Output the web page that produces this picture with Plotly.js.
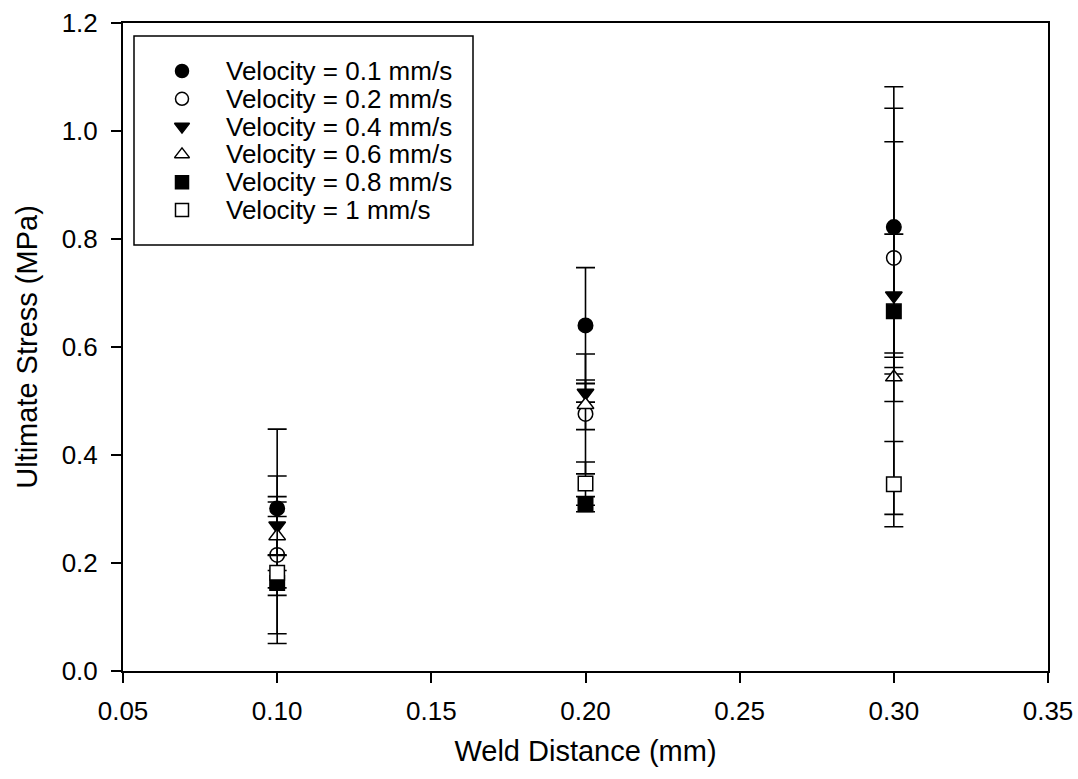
<!DOCTYPE html>
<html>
<head>
<meta charset="utf-8">
<script src="https://cdn.plot.ly/plotly-3.0.1.min.js"></script>
<style>html,body{margin:0;padding:0;background:#fff;}#chart{width:1078px;height:779px;}</style>
</head>
<body>
<div id="chart"></div>
<script>
// ---- data ----
const weldDistance = [0.10, 0.20, 0.30];
const legendLabels = ['Velocity = 0.1 mm/s','Velocity = 0.2 mm/s','Velocity = 0.4 mm/s','Velocity = 0.6 mm/s','Velocity = 0.8 mm/s','Velocity = 1 mm/s'];
const stressV01 = [0.301, 0.640, 0.822];
const errV01    = [0.147, 0.107, 0.260];
const stressV02 = [0.215, 0.476, 0.765];
const errV02    = [0.146, 0.111, 0.215];
const stressV04 = [0.269, 0.515, 0.695];
const errV04    = [0.054, 0.017, 0.114];
const stressV06 = [0.250, 0.493, 0.544];
const errV06    = [0.036, 0.046, 0.045];
const stressV08 = [0.163, 0.309, 0.666];
const errV08    = [0.023, 0.014, 0.376];
const stressV10 = [0.182, 0.347, 0.346];
const errV10    = [0.131, 0.040, 0.079];
const xTickVals = [0.05, 0.10, 0.15, 0.20, 0.25, 0.30, 0.35];
const yTickVals = [0.0, 0.2, 0.4, 0.6, 0.8, 1.0, 1.2];

// ---- styles ----
const FONT = 'Arial, "Liberation Sans", sans-serif';
const series = [
  {y: stressV01, e: errV01, symbol: 'circle',        fill: '#000'},
  {y: stressV02, e: errV02, symbol: 'circle',        fill: '#fff'},
  {y: stressV04, e: errV04, symbol: 'triangle-down', fill: '#000'},
  {y: stressV06, e: errV06, symbol: 'triangle-up',   fill: '#fff'},
  {y: stressV08, e: errV08, symbol: 'square',        fill: '#000'},
  {y: stressV10, e: errV10, symbol: 'square',        fill: '#fff'}
];

const W = 1078, H = 779;
const M = {l: 123, r: 30, t: 23, b: 108};

const traces = series.map((s, i) => ({
  type: 'scatter', mode: 'markers', name: legendLabels[i],
  x: weldDistance, y: s.y,
  error_y: {type: 'data', array: s.e, visible: true, color: '#000', thickness: 1.6, width: 9.5},
  marker: {symbol: s.symbol, size: 14.5, color: s.fill, line: {color: '#000', width: 1.5}},
  showlegend: false, cliponaxis: false
}));

// custom legend drawn on a hidden pixel-scaled overlay axis
const legX0 = 134, legX1 = 473, legY0 = 36, legY1 = 245;
const symX = 182, textX = 224, rowY0 = 71, rowStep = 27.8;
traces.push({
  type: 'scatter', mode: 'markers', xaxis: 'x2', yaxis: 'y2', hoverinfo: 'skip',
  x: series.map(() => symX), y: series.map((s, i) => rowY0 + i * rowStep),
  marker: {symbol: series.map(s => s.symbol), size: 13, color: series.map(s => s.fill), line: {color: '#000', width: 1.5}},
  showlegend: false, cliponaxis: false
});

const annotations = legendLabels.map((t, i) => ({
  xref: 'x2', yref: 'y2', x: textX, y: rowY0 + i * rowStep, text: t,
  showarrow: false, xanchor: 'left', yanchor: 'middle',
  font: {family: FONT, size: 26, color: '#000'}
}));

const layout = {
  width: W, height: H, margin: M,
  paper_bgcolor: '#fff', plot_bgcolor: '#fff',
  showlegend: false,
  font: {family: FONT, color: '#000', size: 26},
  xaxis: {
    range: [0.05, 0.35], tickvals: xTickVals, tickformat: '.2f',
    showline: true, linecolor: '#000', linewidth: 2, mirror: true,
    ticks: 'outside', ticklen: 10, tickwidth: 2, tickcolor: '#000',
    showgrid: false, zeroline: false, automargin: false, ticklabelstandoff: 6,
    tickfont: {family: FONT, size: 26, color: '#000'},
    title: {text: 'Weld Distance (mm)', font: {family: FONT, size: 29, color: '#000'}, standoff: 15}
  },
  yaxis: {
    range: [0, 1.2], tickvals: yTickVals, tickformat: '.1f',
    showline: true, linecolor: '#000', linewidth: 2, mirror: true,
    ticks: 'outside', ticklen: 10, tickwidth: 2, tickcolor: '#000',
    showgrid: false, zeroline: false, automargin: false, ticklabelstandoff: 8,
    tickfont: {family: FONT, size: 26, color: '#000'},
    title: {text: 'Ultimate Stress (MPa)', font: {family: FONT, size: 29, color: '#000'}, standoff: 15}
  },
  xaxis2: {overlaying: 'x', range: [M.l, W - M.r], visible: false, fixedrange: true},
  yaxis2: {overlaying: 'y', range: [H - M.b, M.t], visible: false, fixedrange: true},
  shapes: [{type: 'rect', xref: 'x2', yref: 'y2', x0: legX0, x1: legX1, y0: legY0, y1: legY1,
            line: {color: '#000', width: 1.5}, fillcolor: 'rgba(0,0,0,0)', layer: 'above'}],
  annotations: annotations
};

Plotly.newPlot('chart', traces, layout, {displayModeBar: false, staticPlot: true});
</script>
</body>
</html>
